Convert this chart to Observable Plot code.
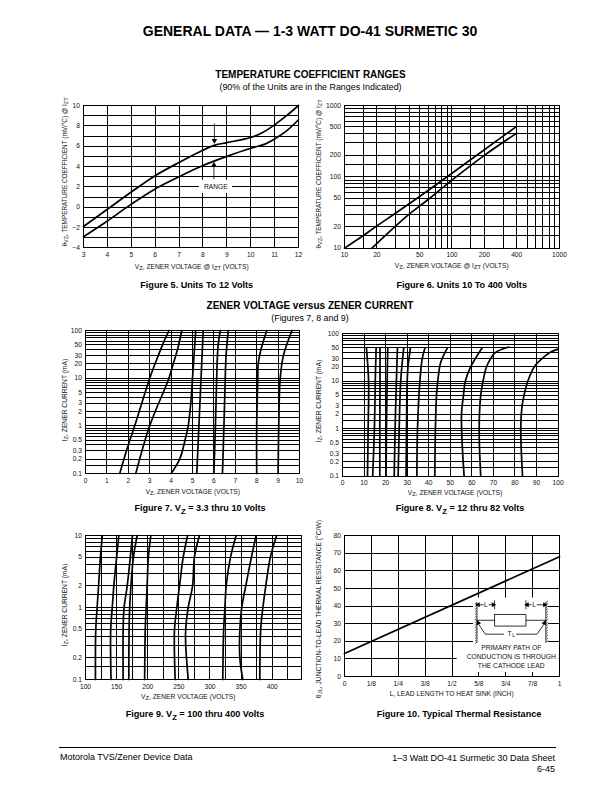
<!DOCTYPE html>
<html>
<head>
<meta charset="utf-8">
<script src="https://cdn.jsdelivr.net/npm/d3@7"></script>
<script src="https://cdn.jsdelivr.net/npm/@observablehq/plot@0.6"></script>
<style>
  html, body { margin: 0; padding: 0; background: #fff; }
  #page { position: relative; width: 612px; height: 792px; overflow: hidden; font-family: "Liberation Sans", Arial, sans-serif; color: #000; }
  #page svg { position: absolute; }
  .t { position: absolute; white-space: nowrap; line-height: 1; transform: translate(-50%, -50%); z-index: 2; }
  .t sub { font-size: 0.85em; line-height: 0; vertical-align: -0.3em; }
  .ax { font-size: 6.7px; color: #111; }
  .cap { font-size: 9.1px; font-weight: bold; }
  .rot { transform: translate(-50%, -50%) rotate(-90deg); }
</style>
</head>
<body>
<div id="page"></div>
<script>
// ---------- Figure 5 ----------
const fig5XTicks = [3,4,5,6,7,8,9,10,11,12];
const fig5YGrid = [-4,-3,-2,-1,0,1,2,3,4,5,6,7,8,9,10];
const fig5YTicks = [-4,-2,0,2,4,6,8,10];
const fig5Upper = [[3,-1.9],[4,-0.2],[5,1.5],[6,3.1],[7,4.4],[8,5.6],[8.5,6.1],[9,6.35],[10,6.85],[10.5,7.35],[11,8.1],[11.5,9],[12,10]];
const fig5Lower = [[3,-2.9],[4,-1.35],[5,0.3],[6,1.8],[7,3],[8,4.1],[9,5],[10,5.8],[10.6,6.2],[11,6.7],[11.5,7.5],[12,8.6]];
// ---------- Figure 6 ----------
const fig6Grid = [10,15,20,30,40,50,60,70,80,90,100,150,200,300,400,500,600,700,800,900,1000];
const fig6XTicks = [10,20,50,100,200,400,1000];
const fig6YTicks = [10,20,50,100,200,500,1000];
const fig6Upper = [[10,10],[15,15],[20,20.5],[30,31],[50,53],[100,112],[200,240],[400,510]];
const fig6Lower = [[18,10],[30,20.5],[40,30],[60,48],[100,90],[200,200],[400,410]];
// ---------- Figures 7, 8 shared current axis ----------
const currentGrid = [0.1,0.15,0.2,0.3,0.4,0.5,0.6,0.7,0.8,0.9,1,1.5,2,3,4,5,6,7,8,9,10,15,20,30,40,50,60,70,80,90,100];
const currentTicks = [0.1,0.2,0.3,0.5,1,2,3,5,10,20,30,50,100];
// ---------- Figure 7 ----------
const fig7XTicks = [0,1,2,3,4,5,6,7,8,9,10];
const fig7Curves = [
  [[1.6,0.1],[2.0,0.4],[2.3,1],[3.0,10],[3.25,20],[3.6,50],[3.9,100]],
  [[2.35,0.1],[3.0,1],[3.9,10],[4.1,20],[4.3,40],[4.5,100]],
  [[4.0,0.1],[4.4,0.2],[4.65,0.5],[4.8,1],[4.92,3],[5.0,10],[5.15,100]],
  [[5.2,0.1],[5.3,1],[5.4,10],[5.5,100]],
  [[6.0,0.1],[6.07,1],[6.13,10],[6.15,20],[6.2,50],[6.3,100]],
  [[6.4,0.1],[6.47,1],[6.53,10],[6.57,30],[6.67,100]],
  [[8.0,0.1],[8.0,1],[8.05,10],[8.07,20],[8.2,40],[8.47,100]],
  [[9.0,0.1],[9.03,1],[9.1,10],[9.25,30],[9.65,100]]
];
// ---------- Figure 8 ----------
const fig8XTicks = [0,10,20,30,40,50,60,70,80,90,100];
const fig8Curves = [
  [[11.6,0.1],[11.9,1],[12.1,10],[11.1,50]],
  [[14,0.1],[14.8,1],[15.2,10],[15.6,50]],
  [[17.3,0.1],[17.3,1],[17.4,10],[17.4,50]],
  [[20.2,0.1],[20.4,1],[20.7,10],[21,50]],
  [[24,0.1],[24.4,1],[25,10],[25.5,50]],
  [[25.8,0.1],[26.3,1],[27,10],[28.4,50]],
  [[29.5,0.1],[29.7,1],[30,10],[30.4,20],[31.5,50]],
  [[34.5,0.1],[34.8,1],[35.9,10],[37,30],[38.3,50]],
  [[42.8,0.1],[43.1,1],[43.6,5],[44.2,10],[45.6,25],[48.7,50]],
  [[56.4,0.1],[55.5,0.5],[55.2,2],[56.1,5],[57,10],[59.5,20],[64.8,50]],
  [[64.1,0.1],[63.4,1],[64.1,5],[65.2,10],[66.8,20],[68.8,30],[71,40],[77.1,52]],
  [[83.5,0.1],[82.7,1],[83.3,3],[84.2,5],[86,10],[89,20],[92.7,30],[96.2,40],[100,47]]
];
// ---------- Figure 9 ----------
const fig9XGrid = [100,125,150,175,200,225,250,275,300,325,350,375,400,425];
const fig9XTicks = [100,150,200,250,300,350,400];
const fig9YGrid = [0.1,0.15,0.2,0.3,0.4,0.5,0.6,0.7,0.8,0.9,1,1.5,2,3,4,5,6,7,8,9,10];
const fig9YTicks = [0.1,0.2,0.5,1,2,5,10];
const fig9Curves = [
  [[116,0.1],[116.5,0.5],[118.7,1],[121,2],[124,5],[127,10]],
  [[141,0.1],[140.5,0.5],[143,1],[145.5,2],[150,5],[153.5,10]],
  [[160.5,0.1],[160.5,0.5],[162,1],[167,2],[172,5],[175.5,10]],
  [[169.6,0.1],[170,0.5],[171,1],[173,2],[177,5],[183,10]],
  [[195,0.1],[196,0.5],[197.5,1],[199,2],[201,5],[205,10]],
  [[244,0.1],[243,0.5],[246.7,1],[251,2],[257,5],[264,10]],
  [[265,0.1],[261,0.3],[261,0.5],[265,1],[272,2],[275,5],[283,10]],
  [[320.5,0.1],[322,0.5],[324,1],[326,2],[333,5],[342,10]],
  [[352.7,0.1],[348,0.2],[348,0.5],[351,1],[357.5,2],[366.6,5],[374,10]],
  [[380,0.1],[381.5,0.5],[385,1],[389.6,2],[397,5],[407,10]]
];
// ---------- Figure 10 ----------
const fig10XGrid = [0,0.125,0.25,0.375,0.5,0.625,0.75,0.875,1];
const fig10XLabels = ["0","1/8","1/4","3/8","1/2","5/8","3/4","7/8","1"];
const fig10YGrid = [0,10,20,30,40,50,60,70,80];
const fig10Line = [[0,13],[1,68]];

const FONT = '"Liberation Sans", Arial, sans-serif';
const TICK = 6.7;
const page = document.getElementById("page");
const M = { l: 26, r: 8, t: 6, b: 14 };
const gridStroke = { stroke: "#000", strokeWidth: 1, shapeRendering: "crispEdges" };
const curveStyle = { x: d => d[0], y: d => d[1], stroke: "#000", strokeWidth: 1.7, curve: "catmull-rom" };

function panel(box, x, y, xAxis, yAxis, marks) {
  const svg = Plot.plot({
    width: box.right - box.left + M.l + M.r,
    height: box.bottom - box.top + M.t + M.b,
    marginLeft: M.l, marginRight: M.r, marginTop: M.t, marginBottom: M.b,
    x, y: { ...y, axis: null },
    style: { background: "transparent", fontFamily: FONT, fontSize: TICK + "px", color: "#111", overflow: "visible" },
    marks: [
      ...marks,
      Plot.frame({ stroke: "#000", strokeWidth: 1, shapeRendering: "crispEdges" }),
      Plot.axisX({ tickSize: 0, tickPadding: 4.5, label: null, ...xAxis }),
      Plot.text(yAxis.ticks, { y: d => d, text: yAxis.tickFormat, frameAnchor: "left", textAnchor: "end", dx: -3.5, fontSize: TICK, fill: "#111" })
    ]
  });
  svg.style.left = (box.left - M.l) + "px";
  svg.style.top = (box.top - M.t) + "px";
  page.appendChild(svg);
}
function label(html, cx, cy, cls, extra) {
  const d = document.createElement("div");
  d.className = "t " + cls;
  d.style.left = cx + "px";
  d.style.top = cy + "px";
  if (extra) Object.assign(d.style, extra);
  d.innerHTML = html;
  page.appendChild(d);
}
const rx = v => Plot.ruleX(v, gridStroke);
const ry = v => Plot.ruleY(v, gridStroke);
const curves = list => list.map(c => Plot.line(c, curveStyle));
const fmt = d => String(d);
const fmtMinus = d => d < 0 ? "\u2212" + (-d) : String(d);

// Figure 5
panel({ left: 83.3, right: 298.3, top: 105.3, bottom: 247.7 },
  { domain: [3, 12] }, { domain: [-4, 10] },
  { ticks: fig5XTicks, tickFormat: fmt }, { ticks: fig5YTicks, tickFormat: fmtMinus },
  [
    rx(fig5XTicks), ry(fig5YGrid),
    Plot.rect([[7.85, 9.24, 1.35, 2.65]], { x1: d => d[0], x2: d => d[1], y1: d => d[2], y2: d => d[3], fill: "#fff" }),
    Plot.text(["RANGE"], { x: 8.54, y: 2, fontSize: TICK, fill: "#111" }),
    Plot.link([[8.48, 8.23, 6.6]], { x1: d => d[0], x2: d => d[0], y1: d => d[1], y2: d => d[2], stroke: "#000", strokeWidth: 0.8 }),
    Plot.link([[8.46, 2.75, 4.1]], { x1: d => d[0], x2: d => d[0], y1: d => d[1], y2: d => d[2], stroke: "#000", strokeWidth: 0.8 }),
    Plot.dot([[8.48, 6.55]], { x: d => d[0], y: d => d[1], symbol: "triangle", r: 2.1, rotate: 180, fill: "#000", stroke: "none" }),
    Plot.dot([[8.46, 4.15]], { x: d => d[0], y: d => d[1], symbol: "triangle", r: 2.1, fill: "#000", stroke: "none" }),
    ...curves([fig5Upper, fig5Lower])
  ]);

// Figure 6
panel({ left: 344.3, right: 559.3, top: 104.7, bottom: 247.3 },
  { type: "log", domain: [10, 1000] }, { type: "log", domain: [10, 1000] },
  { ticks: fig6XTicks, tickFormat: fmt }, { ticks: fig6YTicks, tickFormat: fmt },
  [rx(fig6Grid), ry(fig6Grid), ...curves([fig6Upper, fig6Lower])]);

// Figure 7
panel({ left: 85.3, right: 299.3, top: 330.3, bottom: 473.3 },
  { domain: [0, 10] }, { type: "log", domain: [0.1, 100] },
  { ticks: fig7XTicks, tickFormat: fmt }, { ticks: currentTicks, tickFormat: fmt },
  [rx(fig7XTicks), ry(currentGrid), ...curves(fig7Curves)]);

// Figure 8
panel({ left: 341.7, right: 557.3, top: 332.7, bottom: 475.3 },
  { domain: [0, 100] }, { type: "log", domain: [0.1, 100] },
  { ticks: fig8XTicks, tickFormat: fmt }, { ticks: currentTicks, tickFormat: fmt },
  [rx(fig8XTicks), ry(currentGrid), ...curves(fig8Curves)]);

// Figure 9
panel({ left: 85.3, right: 301.3, top: 535.3, bottom: 679.3 },
  { domain: [100, 447] }, { type: "log", domain: [0.1, 10] },
  { ticks: fig9XTicks, tickFormat: fmt }, { ticks: fig9YTicks, tickFormat: fmt },
  [rx(fig9XGrid), ry(fig9YGrid), ...curves(fig9Curves)]);

// Figure 10 with its lead-length inset
const insetWhite = [[0.6, 0.949, 2.3, 44.5], [0.524, 0.998, 2.3, 18.3]];
const insetWires = [
  [[0.616, 42], [0.616, 19.3]],
  [[0.9367, 42], [0.9367, 19.3]],
  [[0.698, 35.2], [0.844, 35.2], [0.844, 28.6], [0.698, 28.6], [0.698, 35.2]],
  [[0.616, 31.9], [0.698, 31.9]],
  [[0.844, 31.9], [0.9367, 31.9]],
  [[0.698, 43], [0.698, 38.4]],
  [[0.844, 43], [0.844, 38.4]],
  [[0.622, 30], [0.655, 24], [0.74, 24]],
  [[0.93, 30], [0.895, 24], [0.80, 24]],
  [[0.616, 40.7], [0.645, 40.7]],
  [[0.672, 40.7], [0.698, 40.7]],
  [[0.844, 40.7], [0.868, 40.7]],
  [[0.896, 40.7], [0.9367, 40.7]]
];
const wallHatchY = [42, 40.5, 39, 37.5, 36, 34.5, 33, 31.5, 30, 28.5, 27, 25.5, 24, 22.5, 21, 19.5];
const insetArrows = [
  [0.622, 40.7, 270], [0.692, 40.7, 90], [0.85, 40.7, 270], [0.931, 40.7, 90], [0.622, 30.4, 335], [0.93, 30.4, 25]
];
const insetText = [
  ["L", 0.658, 40.7], ["L", 0.882, 40.7], ["T", 0.768, 24.2],
  ["PRIMARY PATH OF", 0.7755, 16.5], ["CONDUCTION IS THROUGH", 0.7755, 11.4], ["THE CATHODE LEAD", 0.7755, 6.1]
];
panel({ left: 344.3, right: 559.3, top: 534.7, bottom: 675.7 },
  { domain: [0, 1] }, { domain: [0, 80] },
  { ticks: fig10XGrid, tickFormat: d => fig10XLabels[fig10XGrid.indexOf(d)] }, { ticks: fig10YGrid, tickFormat: fmt },
  [
    rx(fig10XGrid), ry(fig10YGrid),
    Plot.rect(insetWhite, { x1: d => d[0], x2: d => d[1], y1: d => d[2], y2: d => d[3], fill: "#fff" }),
    Plot.line(fig10Line, { ...curveStyle, curve: "linear" }),
    ...insetWires.map(w => Plot.line(w, { x: d => d[0], y: d => d[1], stroke: "#000", strokeWidth: 0.8 })),
    Plot.link(wallHatchY, { x1: 0.616, x2: 0.606, y1: d => d, y2: d => d - 1, stroke: "#000", strokeWidth: 0.6 }),
    Plot.link(wallHatchY, { x1: 0.9367, x2: 0.9467, y1: d => d, y2: d => d + 1, stroke: "#000", strokeWidth: 0.6 }),
    Plot.dot(insetArrows, { x: d => d[0], y: d => d[1], symbol: "triangle", r: 1.9, rotate: d => d[2], fill: "#000", stroke: "none" }),
    Plot.text(insetText, { x: d => d[1], y: d => d[2], text: d => d[0], fontSize: TICK, fill: "#111" }),
    Plot.text(["L"], { x: 0.768, y: 24.2, dx: 4, dy: 1.5, fontSize: 5, fill: "#111" })
  ]);

// Axis titles
const Z = "<sub>Z</sub>", ZT = "<sub>ZT</sub>";
const vzT = `V${Z}, ZENER VOLTAGE @ I${ZT} (VOLTS)`;
label(vzT, 191.7, 266.7, "ax");
label(vzT, 451.7, 265.7, "ax");
label(`\u03B8<sub>VZ</sub>, TEMPERATURE COEFFICIENT (mV/\u00B0C) @ I${ZT}`, 65, 172, "ax rot", { fontSize: "6.4px" });
label(`\u03B8<sub>VZ</sub>, TEMPERATURE COEFFICIENT (mV/\u00B0C) @ I${ZT}`, 319, 174, "ax rot", { fontSize: "6.4px" });
label(`V${Z}, ZENER VOLTAGE (VOLTS)`, 192.7, 491.7, "ax");
label(`V${Z}, ZENER VOLTAGE (VOLTS)`, 455, 492.7, "ax");
label(`V${Z}, ZENER VOLTAGE (VOLTS)`, 188.3, 696.7, "ax");
label(`I${Z}, ZENER CURRENT (mA)`, 65, 400, "ax rot");
label(`I${Z}, ZENER CURRENT (mA)`, 319, 401, "ax rot");
label(`I${Z}, ZENER CURRENT (mA)`, 65, 605, "ax rot");
label("L, LEAD LENGTH TO HEAT SINK (INCH)", 451.7, 694.3, "ax");
label(`\u03B8<sub>JL</sub>, JUNCTION-TO-LEAD THERMAL RESISTANCE (\u00B0C/W)`, 319.3, 609, "ax rot");

// Captions
label("Figure 5. Units To 12 Volts", 196.7, 286, "cap");
label("Figure 6. Units 10 To 400 Volts", 461.7, 286, "cap");
label(`Figure 7. V${Z} = 3.3 thru 10 Volts`, 200, 509, "cap");
label(`Figure 8. V${Z} = 12 thru 82 Volts`, 460, 509, "cap");
label(`Figure 9. V${Z} = 100 thru 400 Volts`, 195, 715, "cap");
label("Figure 10. Typical Thermal Resistance", 459, 715, "cap");

// Titles
label("GENERAL DATA \u2014 1-3 WATT DO-41 SURMETIC 30", 310, 31, "", { fontSize: "14px", fontWeight: "bold" });
label("TEMPERATURE COEFFICIENT RANGES", 310.5, 75, "", { fontSize: "10px", fontWeight: "bold" });
label("(90% of the Units are in the Ranges Indicated)", 310.5, 87, "", { fontSize: "8.9px" });
label("ZENER VOLTAGE versus ZENER CURRENT", 310, 306, "", { fontSize: "10px", fontWeight: "bold" });
label("(Figures 7, 8 and 9)", 310, 318, "", { fontSize: "8.9px" });

// Footer
const rule = document.createElement("div");
Object.assign(rule.style, { position: "absolute", left: "59px", width: "497px", top: "747px", height: "1px", background: "#000" });
page.appendChild(rule);
label("Motorola TVS/Zener Device Data", 60, 756.5, "", { fontSize: "9px", transform: "translate(0,-50%)" });
label("1\u20133 Watt DO-41 Surmetic 30 Data Sheet", 555, 758, "", { fontSize: "9px", transform: "translate(-100%,-50%)" });
label("6-45", 555, 769, "", { fontSize: "9px", transform: "translate(-100%,-50%)" });
</script>
</body>
</html>
